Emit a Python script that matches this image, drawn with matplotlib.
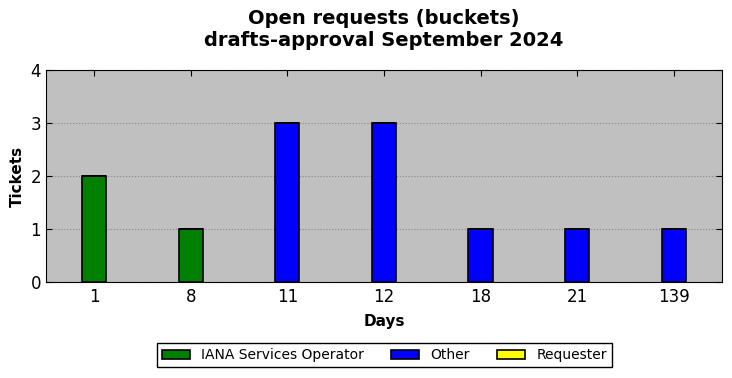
import numpy as np
import matplotlib
matplotlib.use("Agg")
import matplotlib.pyplot as plt

# Data
days = ["1", "8", "11", "12", "18", "21", "139"]
iana = [2, 1, 0, 0, 0, 0, 0]
other = [0, 0, 3, 3, 1, 1, 1]
requester = [0, 0, 0, 0, 0, 0, 0]

x = np.arange(len(days))
width = 0.25

fig = plt.figure(figsize=(7.32, 3.78), dpi=100)
ax = fig.add_axes([0.0628, 0.254, 0.9235, 0.561])
ax.set_facecolor("#c0c0c0")

bottom = np.zeros(len(days))
for vals, color, label in [(iana, "green", "IANA Services Operator"),
                           (other, "blue", "Other"),
                           (requester, "yellow", "Requester")]:
    ax.bar(x, vals, width, bottom=bottom, color=color, edgecolor="black",
           linewidth=1.2, label=label, zorder=3)
    bottom += np.array(vals)

ax.set_xlim(-0.5, len(days) - 0.5)
ax.set_ylim(0, 4)
ax.set_xticks(x)
ax.set_xticklabels(days)
ax.set_yticks([0, 1, 2, 3, 4])
ax.tick_params(direction="in", top=True, right=True, labelsize=12, length=4)
ax.tick_params(axis="x", pad=4)
ax.yaxis.grid(True, linestyle=":", color="#888888", linewidth=0.8, zorder=0)
ax.set_axisbelow(True)

ax.set_xlabel("Days", fontsize=11, fontweight="bold", labelpad=6)
ax.set_ylabel("Tickets", fontsize=11, fontweight="bold")
ax.set_title("Open requests (buckets)\ndrafts-approval September 2024",
             fontsize=14, fontweight="bold", pad=17)

fig.legend(loc="center", bbox_to_anchor=(0.525, 0.06), ncol=3, fontsize=10,
           fancybox=False, edgecolor="black", framealpha=1,
           handlelength=2.0, columnspacing=2.0, borderpad=0.35)

fig.savefig("out.png", dpi=100)
